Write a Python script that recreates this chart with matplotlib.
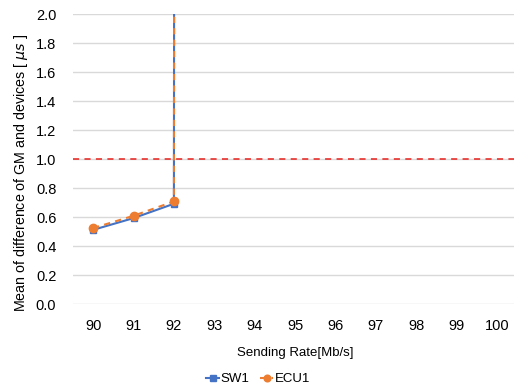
import matplotlib
matplotlib.use("Agg")
import matplotlib.pyplot as plt
import numpy as np

plt.rcParams['font.family'] = ['Liberation Sans', 'DejaVu Sans']

rates = [90, 91, 92, 93, 94, 95, 96, 97, 98, 99, 100]
sw1 = [0.512, 0.593, 0.692, 300.0, None, None, None, None, None, None, None]
ecu1 = [0.524, 0.609, 0.708, 300.0, None, None, None, None, None, None, None]
threshold = 1.0
yticks = [0.0, 0.2, 0.4, 0.6, 0.8, 1.0, 1.2, 1.4, 1.6, 1.8, 2.0]

def arr(v):
    return np.array([np.nan if x is None else x for x in v], dtype=float)

fig = plt.figure(figsize=(5.14, 3.91), dpi=100)
ax = fig.add_axes([73/514, 87/391, 444/514, 289.7/391])

ax.set_xlim(89.5, 100.5)
ax.set_ylim(0, 2.0)
ax.set_yticks(yticks)
ax.set_yticklabels([f"{t:.1f}" for t in yticks])
ax.set_xticks(rates)
ax.set_xticklabels([str(r) for r in rates])
ax.grid(axis='y', color='#d9d9d9', linewidth=1)
ax.set_axisbelow(True)
for s in ax.spines.values():
    s.set_visible(False)
ax.tick_params(axis='y', length=0, labelsize=10.5, pad=12)
ax.tick_params(axis='x', length=0, labelsize=10.5, pad=11)

x = np.array(rates, dtype=float)
l1, = ax.plot(x, arr(sw1), color='#4472C4', linewidth=1.5, marker='s', markersize=5,
              label='SW1', zorder=3)
l2, = ax.plot(x, arr(ecu1), color='#ED7D31', linewidth=1.5, linestyle=(0, (3, 2.5)),
              marker='o', markersize=6, label='ECU1', zorder=4)
ax.axhline(threshold, color='#E8211D', linestyle=(0, (4, 3.5)), linewidth=1.1, zorder=2)

ax.set_xlabel('Sending Rate[Mb/s]', fontsize=9.5, labelpad=10)
ax.set_ylabel(r'Mean of difference of GM and devices [ $\mu s$ ]', fontsize=10.3)
ax.yaxis.set_label_coords(-0.096, 0.452)

fig.legend(handles=[l1, l2], loc='center', bbox_to_anchor=(258/514, 1 - 379/391),
           ncol=2, frameon=False, fontsize=9.5, handlelength=1.0, handletextpad=0.1,
           columnspacing=0.8, markerscale=0.8)

fig.savefig('out.png', dpi=100)
